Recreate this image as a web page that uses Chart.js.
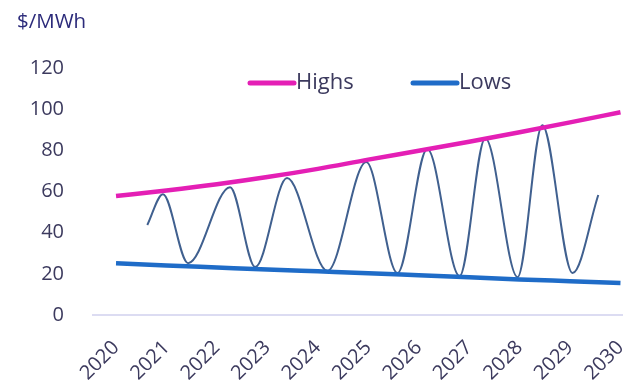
<!DOCTYPE html>
<html>
<head>
<meta charset="utf-8">
<script src="https://cdn.jsdelivr.net/npm/chart.js@4/dist/chart.umd.min.js"></script>
<style>
  html, body { margin: 0; padding: 0; background: #ffffff; }
  #wrap { width: 623px; height: 389px; position: relative; }
</style>
</head>
<body>
<div id="wrap"><canvas id="c"></canvas></div>
<script>
// ---- data ----
const unitLabel = '$/MWh';
const years = [2020, 2021, 2022, 2023, 2024, 2025, 2026, 2027, 2028, 2029, 2030];
const highs = [57.8, 60.5, 63.5, 67.0, 71.0, 75.5, 79.8, 84.2, 88.8, 93.6, 98.5];
const lows  = [25.2, 24.1, 23.1, 22.1, 21.2, 20.3, 19.3, 18.3, 17.3, 16.4, 15.5];
const priceX = [2020.62, 2020.93, 2021.43, 2022.26, 2022.76, 2023.39, 2024.19, 2024.96,
                2025.58, 2026.17, 2026.81, 2027.32, 2027.96, 2028.45, 2029.05, 2029.56];
const priceY = [43.7, 58.7, 25.2, 62.1, 23.3, 66.5, 21.4, 74.3,
                20.4, 80.6, 18.9, 85.9, 18.4, 92.2, 20.4, 58.3];
const yTicks = [0, 20, 40, 60, 80, 100, 120];
const seriesNames = ['Highs', 'Lows'];

const FONT = '"Open Sans", "Noto Sans", sans-serif';
const TEXT = '#3c3a5e';

const overlay = {
  id: 'overlay',
  afterDraw(chart) {
    const ctx = chart.ctx;
    ctx.save();
    ctx.font = '20.5px ' + FONT;
    ctx.fillStyle = '#2b2a7a';
    ctx.textBaseline = 'middle';
    ctx.textAlign = 'left';
    ctx.fillText(unitLabel, 17, 22);
    // legend
    const starts = [250, 413];
    const ly = 83;
    ctx.font = '22px ' + FONT;
    seriesNames.forEach((name, i) => {
      const ds = chart.data.datasets[i];
      ctx.strokeStyle = ds.borderColor;
      ctx.lineWidth = 5;
      ctx.lineCap = 'round';
      ctx.beginPath();
      ctx.moveTo(starts[i], ly);
      ctx.lineTo(starts[i] + 44, ly);
      ctx.stroke();
      ctx.fillStyle = TEXT;
      ctx.fillText(ds.label, starts[i] + 46, ly);
    });
    ctx.restore();
  }
};

new Chart(document.getElementById('c'), {
  type: 'line',
  data: {
    datasets: [
      {
        label: seriesNames[0],
        data: years.map((y, i) => ({ x: y, y: highs[i] })),
        borderColor: '#e41fb5',
        borderWidth: 4.5,
        pointRadius: 0,
        cubicInterpolationMode: 'monotone',
        order: 1
      },
      {
        label: seriesNames[1],
        data: years.map((y, i) => ({ x: y, y: lows[i] })),
        borderColor: '#1f6cc8',
        borderWidth: 4.5,
        pointRadius: 0,
        cubicInterpolationMode: 'monotone',
        order: 2
      },
      {
        label: 'Price',
        data: priceX.map((x, i) => ({ x: x, y: priceY[i] })),
        borderColor: '#40608f',
        borderWidth: 2,
        pointRadius: 0,
        cubicInterpolationMode: 'monotone',
        order: 3
      }
    ]
  },
  options: {
    responsive: true,
    maintainAspectRatio: false,
    animation: false,
    layout: { padding: { top: 68, left: 0, right: 0, bottom: 0 } },
    plugins: {
      legend: { display: false },
      title: { display: false },
      tooltip: { enabled: false }
    },
    scales: {
      x: {
        type: 'linear',
        min: 2019.524,
        max: 2030.05,
        grid: { display: false, drawTicks: false },
        border: { display: false },
        afterBuildTicks: (s) => { s.ticks = years.map(v => ({ value: v })); },
        afterFit: (s) => { s.height = 74; s.paddingLeft = 0; s.paddingRight = 0; },
        ticks: {
          autoSkip: false,
          maxRotation: 45,
          minRotation: 45,
          padding: 21,
          color: TEXT,
          font: { family: FONT, size: 20 },
          callback: (v) => String(v)
        }
      },
      y: {
        min: 0,
        max: 120,
        afterBuildTicks: (s) => { s.ticks = yTicks.map(v => ({ value: v })); },
        afterFit: (s) => { s.width = 92; },
        grid: {
          drawTicks: false,
          lineWidth: 2,
          color: (c) => (c.tick && c.tick.value === 0) ? '#dcdcf2' : 'rgba(0,0,0,0)'
        },
        border: { display: false },
        ticks: {
          padding: 28,
          color: TEXT,
          font: { family: FONT, size: 20 }
        }
      }
    }
  },
  plugins: [overlay]
});
</script>
</body>
</html>
